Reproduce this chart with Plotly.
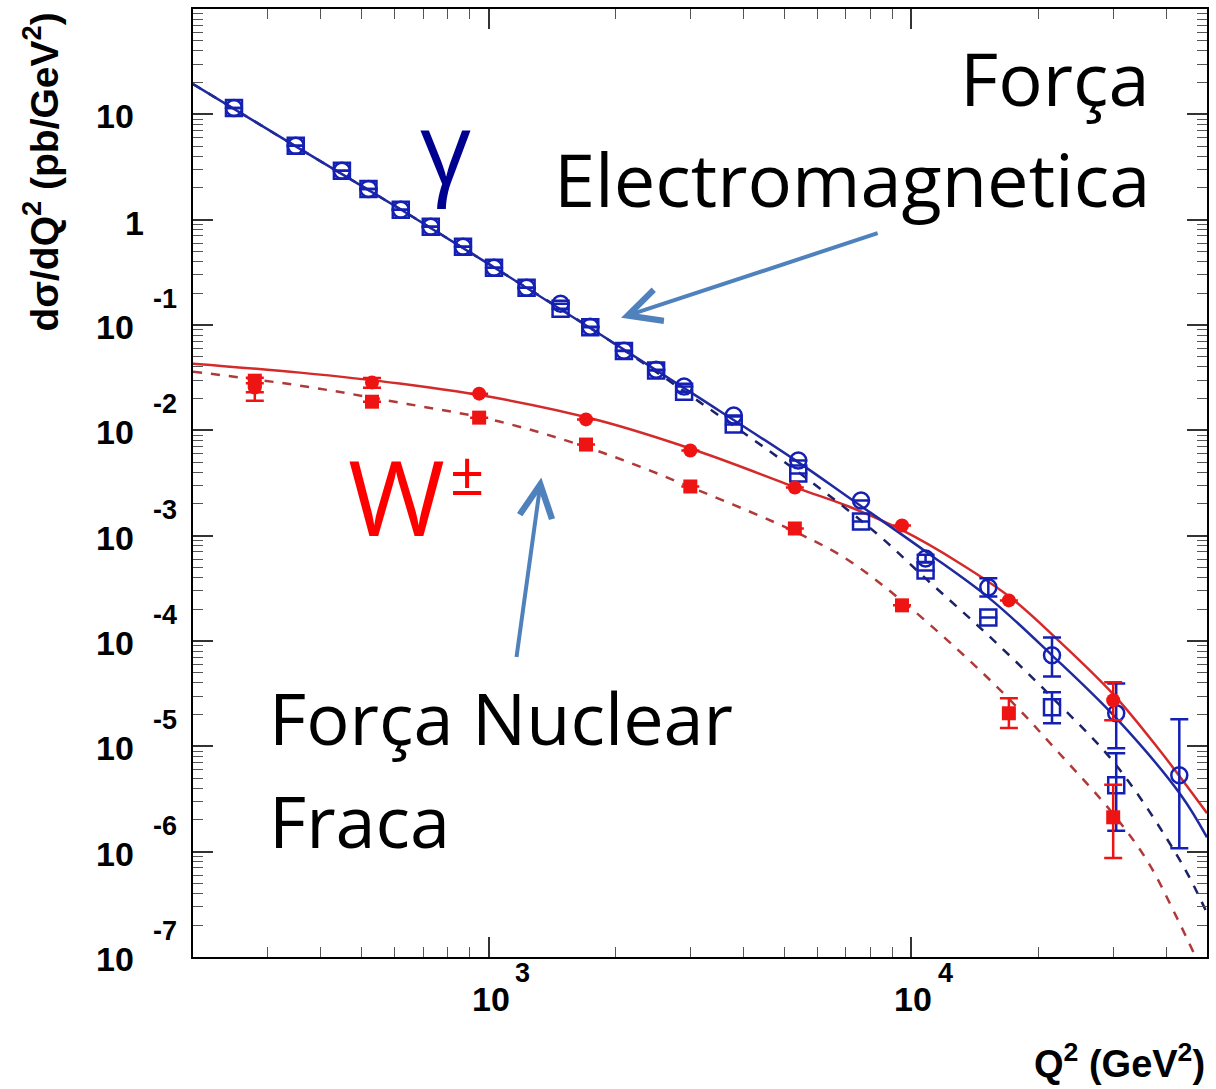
import plotly.graph_objects as go

# ---------------- data ----------------
# neutral current (photon exchange) -- open markers, blue
q_nc = [250, 350, 450, 520, 620, 730, 870, 1030, 1230, 1480, 1740, 2090, 2490,
        2900, 3800, 5400, 7600, 10800, 15200, 21500, 30500, 43000]
nc_circle = [11.5, 5.02, 2.91, 1.96, 1.24, 0.855, 0.553, 0.350, 0.226, 0.159,
             0.0964, 0.0571, 0.0377, 0.0260, 0.0138, 0.00516, 0.00216,
             6.08e-4, 3.23e-4, 7.31e-5, 2.06e-5, 5.32e-6]
nc_circle_errp = [None] * 17 + [5.0e-5, 7.1e-5, 3.5e-5, 1.9e-5, 1.28e-5]
nc_circle_errm = [None] * 17 + [4.5e-5, 5.8e-5, 2.7e-5, 1.1e-5, 4.24e-6]
nc_square = [11.5, 5.02, 2.91, 1.96, 1.24, 0.855, 0.553, 0.350, 0.226, 0.143,
             0.0950, 0.0565, 0.0370, 0.0233, 0.01135, 0.00389, 0.00136,
             4.68e-4, 1.67e-4, 2.35e-5, 4.28e-6]
nc_square_errp = [None] * 19 + [9.1e-6, 4.3e-6]
nc_square_errm = [None] * 19 + [6.9e-6, 2.7e-6]

# charged current (W exchange) -- filled markers, red
q_cc = [280, 530, 950, 1700, 3000, 5300, 9500, 17000, 30000]
cc_circle = [0.0255, 0.0284, 0.0223, 0.0127, 0.00643, 0.00286, 0.00125,
             2.43e-4, 2.74e-5]
cc_circle_errp = [0.0025, 0.003, None, None, None, None, None, None, 1.32e-5]
cc_circle_errm = [0.0025, 0.003, None, None, None, None, None, None, 0.97e-5]
cc_square = [0.0296, 0.0187, 0.0132, 0.00733, 0.00293, 0.00117, 2.18e-4,
             2.06e-5, 2.12e-6]
cc_square_errp = [0.002, None, None, None, None, None, None, 0.8e-5, 2.2e-6]
cc_square_errm = [0.0105, None, None, None, None, None, None, 0.57e-5, 1.25e-6]

# theory curves
q_nc_solid = [200, 358, 616, 1061, 1827, 3145, 5415, 7107, 10800, 15300,
              21500, 30500, 43400, 50000]
nc_solid = [19.4, 4.70, 1.268, 0.3275, 0.0827, 0.02045, 4.94e-3, 2.303e-3,
            7.08e-4, 2.54e-4, 7.31e-5, 1.85e-5, 3.44e-6, 1.37e-6]
q_nc_dash = [200, 358, 616, 1061, 1827, 3145, 5415, 8274, 10800, 15200,
             21500, 30500, 43400, 50000]
nc_dash = [19.4, 4.70, 1.268, 0.3275, 0.0827, 0.01874, 3.975e-3, 1.049e-3,
           3.926e-4, 1.131e-4, 2.92e-5, 6.62e-6, 7.96e-7, 2.61e-7]
q_cc_solid = [200, 358, 616, 1061, 1827, 3145, 5415, 7107, 9530, 12920,
              17140, 22250, 30170, 38310, 50000]
cc_solid = [0.04296, 0.03530, 0.02777, 0.02001, 0.01238, 6.29e-3, 2.80e-3,
            1.891e-3, 1.120e-3, 5.57e-4, 2.594e-4, 1.014e-4, 3.05e-5,
            9.59e-6, 2.32e-6]
q_cc_dash = [200, 358, 616, 1061, 1827, 3145, 5415, 7107, 9530, 12920,
             17140, 22250, 30170, 36270, 42710, 47610]
cc_dash = [0.03608, 0.02657, 0.01834, 0.01211, 6.29e-3, 2.683e-3, 1.049e-3,
           5.82e-4, 2.377e-4, 8.15e-5, 2.735e-5, 8.79e-6, 2.22e-6, 7.96e-7,
           2.24e-7, 8.96e-8]

y_exponents = [1, 0, -1, -2, -3, -4, -5, -6, -7]
x_exponents = [3, 4]

# ---------------- styles ----------------
BLUE_M = "#1420b4"
BLUE_L = "#1f2a9e"
BLUE_D = "#1b2266"
RED_M = "#ee1414"
RED_L = "#d42a2a"
RED_D = "#b03a3a"
ARROW = "#4f81bd"
AXFONT = "Liberation Sans, Arial, sans-serif"
TXTFONT = "Open Sans, Noto Sans, sans-serif"

fig = go.Figure()

fig.add_trace(go.Scatter(x=q_cc_dash, y=cc_dash, mode="lines", line_shape="spline",
                         line=dict(color=RED_D, width=2.5, dash="dash")))
fig.add_trace(go.Scatter(x=q_cc_solid, y=cc_solid, mode="lines", line_shape="spline",
                         line=dict(color=RED_L, width=2.5)))
fig.add_trace(go.Scatter(x=q_nc_dash, y=nc_dash, mode="lines", line_shape="spline",
                         line=dict(color=BLUE_D, width=2.5, dash="dash")))
fig.add_trace(go.Scatter(x=q_nc_solid, y=nc_solid, mode="lines", line_shape="spline",
                         line=dict(color=BLUE_L, width=2.5)))


def err(p, m, color):
    return dict(type="data", symmetric=False, array=p, arrayminus=m,
                color=color, thickness=2.5, width=9)


fig.add_trace(go.Scatter(x=q_nc[:len(nc_square)], y=nc_square, mode="markers",
                         marker=dict(symbol="square-open", size=16, color=BLUE_M,
                                     line=dict(width=2.5, color=BLUE_M)),
                         error_y=err(nc_square_errp, nc_square_errm, BLUE_M)))
fig.add_trace(go.Scatter(x=q_nc, y=nc_circle, mode="markers",
                         marker=dict(symbol="circle-open", size=16, color=BLUE_M,
                                     line=dict(width=2.5, color=BLUE_M)),
                         error_y=err(nc_circle_errp, nc_circle_errm, BLUE_M)))
fig.add_trace(go.Scatter(x=q_cc, y=cc_square, mode="markers",
                         marker=dict(symbol="square", size=14, color=RED_M),
                         error_y=err(cc_square_errp, cc_square_errm, RED_M)))
fig.add_trace(go.Scatter(x=q_cc, y=cc_circle, mode="markers",
                         marker=dict(symbol="circle", size=14, color=RED_M),
                         error_y=err(cc_circle_errp, cc_circle_errm, RED_M)))

axis_common = dict(type="log", showline=True, linecolor="black", linewidth=2,
                   mirror="allticks", ticks="inside", ticklen=20, tickwidth=1.5,
                   tickcolor="#333", showgrid=False, zeroline=False,
                   showticklabels=False,
                   minor=dict(ticks="inside", ticklen=10, tickwidth=1,
                              tickcolor="#555", dtick="D1", showgrid=False))

fig.update_xaxes(range=[2.30103, 4.69897],
                 tickvals=[10 ** e for e in x_exponents], **axis_common)
fig.update_yaxes(range=[-7, 2],
                 tickvals=[10 ** e for e in y_exponents], **axis_common)

ann = []
# y tick labels
for e in y_exponents:
    if e == 0:
        ann.append(dict(xref="paper", yref="y", x=0, y=e, xshift=-47, yshift=-3,
                        xanchor="right", yanchor="middle", showarrow=False,
                        text="1", font=dict(family=AXFONT, size=34, color="black",
                                            weight="bold")))
    else:
        ann.append(dict(xref="paper", yref="y", x=0, y=e, xshift=-57, yshift=-2,
                        xanchor="right", yanchor="middle", showarrow=False,
                        text="10", font=dict(family=AXFONT, size=34, color="black",
                                             weight="bold")))
        if e != 1:
            ann.append(dict(xref="paper", yref="y", x=0, y=e, xshift=-42, yshift=26,
                            xanchor="left", yanchor="middle", showarrow=False,
                            text=str(e), font=dict(family=AXFONT, size=27,
                                                   color="black", weight="bold")))
# x tick labels
for e in x_exponents:
    ann.append(dict(xref="x", yref="paper", x=e, y=0, xshift=2, yshift=-42,
                    xanchor="center", yanchor="middle", showarrow=False,
                    text="10", font=dict(family=AXFONT, size=34, color="black",
                                         weight="bold")))
    ann.append(dict(xref="x", yref="paper", x=e, y=0, xshift=34, yshift=-16,
                    xanchor="center", yanchor="middle", showarrow=False,
                    text=str(e), font=dict(family=AXFONT, size=27, color="black",
                                           weight="bold")))
# axis titles
ann.append(dict(xref="paper", yref="paper", x=0, y=1, xshift=-152, yshift=-2,
                xanchor="center", yanchor="top", textangle=-90, showarrow=False,
                text="dσ/dQ<sup>2</sup> (pb/GeV<sup>2</sup>)",
                font=dict(family=AXFONT, size=39, color="black", weight="bold")))
ann.append(dict(xref="paper", yref="paper", x=1, y=0, xshift=0, yshift=-104,
                xanchor="right", yanchor="middle", showarrow=False,
                text="Q<sup>2</sup> (GeV<sup>2</sup>)",
                font=dict(family=AXFONT, size=38, color="black", weight="bold")))

# big labels
ann.append(dict(xref="paper", yref="paper", x=0.946, y=0.928, xanchor="right",
                yanchor="middle", showarrow=False, text="Força",
                font=dict(family=TXTFONT, size=74, color="black")))
ann.append(dict(xref="paper", yref="paper", x=0.946, y=0.821, xanchor="right",
                yanchor="middle", showarrow=False, text="Electromagnetica",
                font=dict(family=TXTFONT, size=74, color="black")))
ann.append(dict(xref="paper", yref="paper", x=0.249, y=0.855, xanchor="center",
                yanchor="middle", showarrow=False, text="γ",
                font=dict(family=TXTFONT, size=100, color="#000090")))
ann.append(dict(xref="paper", yref="paper", x=0.201, y=0.487, xanchor="center",
                yanchor="middle", showarrow=False, text="W",
                font=dict(family=TXTFONT, size=105, color="#ff0000")))
ann.append(dict(xref="paper", yref="paper", x=0.270, y=0.512, xanchor="center",
                yanchor="middle", showarrow=False, text="±",
                font=dict(family=TXTFONT, size=60, color="#ff0000")))
ann.append(dict(xref="paper", yref="paper", x=0.0729, y=0.2535, xanchor="left",
                yanchor="middle", showarrow=False, text="Força Nuclear",
                font=dict(family=TXTFONT, size=72, color="black")))
ann.append(dict(xref="paper", yref="paper", x=0.0729, y=0.1445, xanchor="left",
                yanchor="middle", showarrow=False, text="Fraca",
                font=dict(family=TXTFONT, size=72, color="black")))

# arrows
ann.append(dict(xref="x", yref="y", x=3.3135, y=-0.9306, ax=258, ay=-85,
                showarrow=True, arrowhead=5, arrowsize=1.6, arrowwidth=4,
                arrowcolor=ARROW, text="", standoff=0))
ann.append(dict(xref="x", yref="y", x=3.1247, y=-2.448, ax=-25, ay=181,
                showarrow=True, arrowhead=5, arrowsize=1.6, arrowwidth=4,
                arrowcolor=ARROW, text="", standoff=0))

fig.update_layout(width=1216, height=1089, showlegend=False,
                  paper_bgcolor="white", plot_bgcolor="white",
                  margin=dict(l=193, r=7, t=8, b=132),
                  annotations=ann)

fig.write_html("out.html", config={"displayModeBar": False},
               post_script="document.body.style.margin='0';document.body.style.overflow='hidden';")
